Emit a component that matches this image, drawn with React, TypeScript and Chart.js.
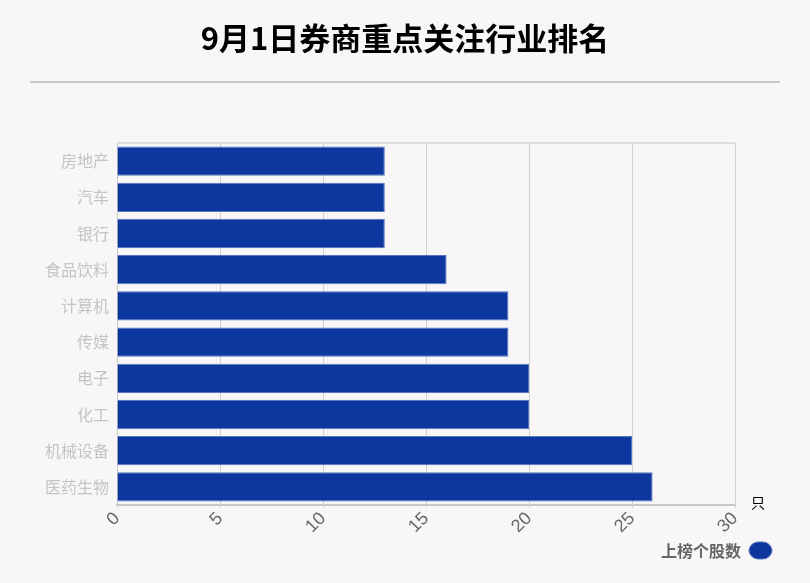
import React, { useEffect, useRef } from 'react';
import { Chart, registerables, Plugin } from 'chart.js';

Chart.register(...registerables);

const title = '9月1日券商重点关注行业排名';
const industries = ['房地产', '汽车', '银行', '食品饮料', '计算机', '传媒', '电子', '化工', '机械设备', '医药生物'];
const stockCounts = [13, 13, 13, 16, 19, 19, 20, 20, 25, 26];
const seriesName = '上榜个股数';
const unitLabel = '只';

const FONT = '"Noto Sans CJK SC", "Noto Sans", sans-serif';

// title, separator line, top border of the plot and the unit label
const decorPlugin: Plugin<'bar'> = {
    id: 'decor',
    beforeDraw(chart) {
        const { ctx, width } = chart;
        ctx.save();
        ctx.fillStyle = '#f9f6f7';
        ctx.fillRect(0, 0, width, chart.height);
        ctx.restore();
    },
    afterDraw(chart) {
        const { ctx, chartArea, width } = chart;
        ctx.save();
        ctx.fillStyle = '#000';
        ctx.font = `bold 31px ${FONT}`;
        ctx.textAlign = 'center';
        ctx.textBaseline = 'middle';
        ctx.fillText(title, width / 2, 38);

        ctx.strokeStyle = '#c8c8c8';
        ctx.lineWidth = 2;
        ctx.beginPath();
        ctx.moveTo(30, 82);
        ctx.lineTo(width - 30, 82);
        ctx.stroke();

        ctx.strokeStyle = '#dddddd';
        ctx.lineWidth = 2;
        ctx.beginPath();
        ctx.moveTo(chartArea.left, chartArea.top);
        ctx.lineTo(chartArea.right, chartArea.top);
        ctx.stroke();

        ctx.fillStyle = '#000';
        ctx.font = `14px ${FONT}`;
        ctx.textAlign = 'left';
        ctx.fillText(unitLabel, chartArea.right + 16, chartArea.bottom - 2);
        ctx.restore();
    }
};

const App: React.FC = () => {
    const canvasRef = useRef<HTMLCanvasElement>(null);
    const chartRef = useRef<Chart | null>(null);

    useEffect(() => {
        document.body.style.margin = '0';
        if (!canvasRef.current) return;
        if (chartRef.current) chartRef.current.destroy();

        chartRef.current = new Chart(canvasRef.current, {
            type: 'bar',
            data: {
                labels: industries,
                datasets: [{
                    label: seriesName,
                    data: stockCounts,
                    backgroundColor: '#0d369f',
                    borderColor: '#5574c0',
                    borderWidth: 1,
                    barPercentage: 0.81,
                    categoryPercentage: 1
                }]
            },
            options: {
                indexAxis: 'y',
                responsive: true,
                maintainAspectRatio: false,
                animation: false,
                layout: { padding: { top: 143, right: 30, bottom: 14, left: 0 } },
                scales: {
                    x: {
                        min: 0,
                        max: 30,
                        ticks: {
                            stepSize: 5,
                            minRotation: 45,
                            maxRotation: 45,
                            color: '#666',
                            font: { family: '"Liberation Sans", sans-serif', size: 18 },
                            padding: 0
                        },
                        grid: { color: '#d0d0d0', lineWidth: 1, tickLength: 3 },
                        border: { color: '#c8c8c8', width: 2 },
                        afterFit: (s: any) => { s.height = 29; }
                    },
                    y: {
                        ticks: {
                            color: '#c4c4c4',
                            font: { family: FONT, size: 16 },
                            padding: 0
                        },
                        grid: { display: false },
                        border: { color: '#c8c8c8', width: 1 },
                        afterFit: (s: any) => { s.width = 117; }
                    },
                    yRight: {
                        type: 'linear',
                        position: 'right',
                        ticks: { display: false },
                        grid: { display: false },
                        border: { display: false },
                        afterFit: (s: any) => { s.width = 45; }
                    }
                },
                plugins: {
                    title: { display: false },
                    tooltip: { enabled: false },
                    legend: {
                        position: 'bottom',
                        align: 'start',
                        rtl: true,
                        labels: {
                            color: '#666',
                            font: { family: FONT, size: 16, weight: 'bold' },
                            boxWidth: 23,
                            boxHeight: 17,
                            useBorderRadius: true,
                            borderRadius: 9,
                            padding: 8
                        }
                    }
                }
            },
            plugins: [decorPlugin]
        } as any);

        return () => {
            if (chartRef.current) {
                chartRef.current.destroy();
                chartRef.current = null;
            }
        };
    }, []);

    return (
        <div style={{ width: 810, height: 583, position: 'relative', background: '#f9f6f7' }}>
            <canvas ref={canvasRef}></canvas>
        </div>
    );
};

export default App;
